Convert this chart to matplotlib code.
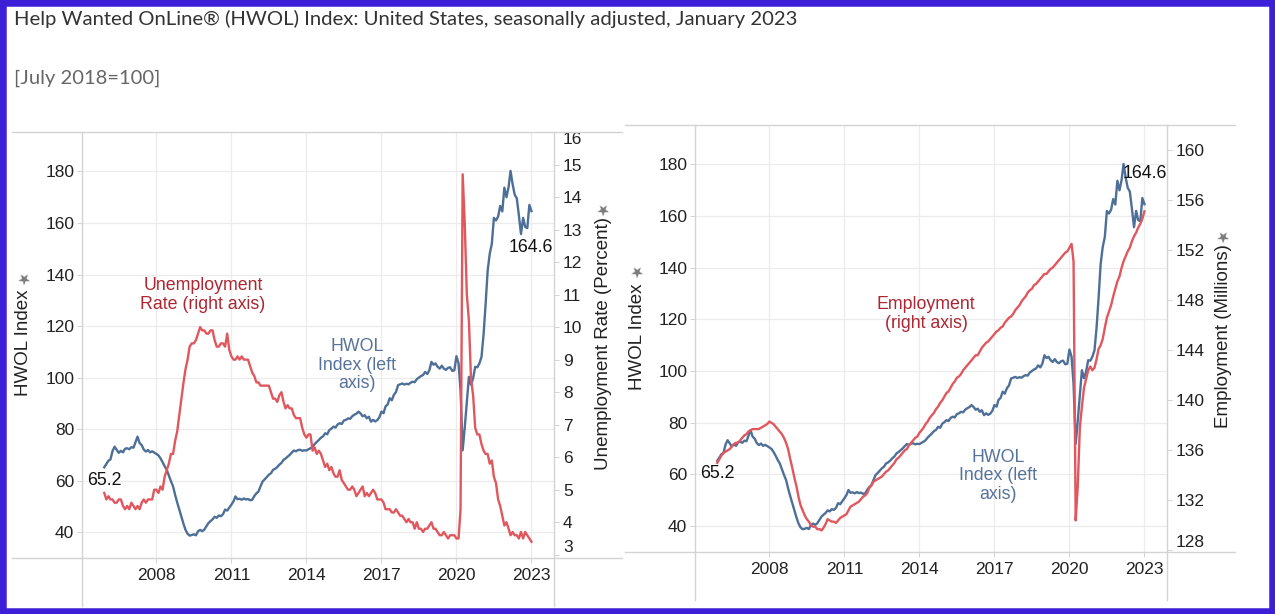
import matplotlib
matplotlib.use('Agg')
import matplotlib.pyplot as plt
from matplotlib.lines import Line2D
from matplotlib.patches import Rectangle
import pandas as pd

# monthly data, Dec 2005 .. Jan 2023
months = pd.date_range('2005-12-01', '2023-01-01', freq='MS')

hwol = [
    65.2,
    66.5, 67.8, 68.2, 71.5, 73.2, 72.0, 70.8, 71.6, 71.0, 72.4, 72.6, 72.2,    # 2006
    73.0, 72.8, 74.8, 77.1, 74.6, 73.8, 72.1, 71.3, 71.9, 71.0, 71.4, 70.9,    # 2007
    70.4, 69.8, 68.7, 67.2, 65.6, 64.2, 62.0, 59.8, 57.8, 54.5, 51.5, 48.8,    # 2008
    46.0, 43.2, 41.0, 39.4, 38.7, 38.9, 39.2, 38.8, 40.4, 40.9, 40.4, 41.0,    # 2009
    42.3, 43.6, 44.3, 45.0, 46.0, 45.6, 46.5, 46.2, 47.0, 48.8, 48.4, 49.5,    # 2010
    50.7, 52.0, 53.9, 52.8, 53.0, 52.6, 53.1, 52.7, 52.9, 52.4, 52.6, 54.0,    # 2011
    55.1, 55.8, 57.8, 59.7, 60.5, 61.4, 62.3, 62.9, 64.2, 64.6, 65.3, 66.2,    # 2012
    66.9, 68.1, 68.6, 69.3, 70.0, 70.9, 71.7, 71.4, 71.9, 72.0, 71.6, 71.8,    # 2013
    71.7, 72.2, 72.6, 73.2, 74.2, 75.0, 75.8, 76.7, 77.2, 78.4, 78.0, 79.6,    # 2014
    80.2, 81.0, 80.6, 81.8, 82.3, 82.0, 83.3, 83.6, 84.2, 84.0, 85.0, 85.6,    # 2015
    86.0, 86.8, 86.1, 85.0, 85.4, 84.2, 84.8, 82.9, 83.6, 83.0, 83.5, 84.6,    # 2016
    86.8, 86.2, 88.8, 89.6, 92.0, 91.2, 93.3, 94.4, 97.1, 97.4, 97.7, 97.3,    # 2017
    97.6, 97.4, 98.0, 98.4, 98.2, 99.4, 100.0, 100.6, 101.0, 102.2, 101.4, 102.8,  # 2018
    106.1, 105.0, 105.5, 104.2, 103.5, 104.6, 103.5, 103.0, 103.8, 104.0, 102.6, 102.8,  # 2019
    108.3, 105.5, 95.0, 71.8, 80.5, 90.5, 100.3, 97.2, 99.8, 104.2, 104.0, 105.5,  # 2020
    108.0, 117.0, 128.0, 141.5, 148.0, 152.0, 162.0, 161.0, 162.5, 166.6, 164.5, 173.7,  # 2021
    170.0, 174.0, 180.2, 175.0, 171.0, 169.5, 163.0, 155.7, 162.0, 158.5, 158.0, 167.0,  # 2022
    164.6,
]

unemp = [
    4.9,
    4.7, 4.8, 4.7, 4.7, 4.6, 4.6, 4.7, 4.7, 4.5, 4.4, 4.5, 4.4,
    4.6, 4.5, 4.4, 4.5, 4.4, 4.6, 4.7, 4.6, 4.7, 4.7, 4.7, 5.0,
    5.0, 4.9, 5.1, 5.0, 5.4, 5.6, 5.8, 6.1, 6.1, 6.5, 6.8, 7.3,
    7.8, 8.3, 8.7, 9.0, 9.4, 9.5, 9.5, 9.6, 9.8, 10.0, 9.9, 9.9,
    9.8, 9.8, 9.9, 9.9, 9.6, 9.4, 9.4, 9.5, 9.5, 9.4, 9.8, 9.3,
    9.1, 9.0, 9.0, 9.1, 9.0, 9.1, 9.0, 9.0, 9.0, 8.8, 8.6, 8.5,
    8.3, 8.3, 8.2, 8.2, 8.2, 8.2, 8.2, 8.0, 7.8, 7.8, 7.7, 7.9,
    8.0, 7.7, 7.5, 7.6, 7.5, 7.5, 7.3, 7.2, 7.2, 7.2, 6.9, 6.7,
    6.6, 6.7, 6.7, 6.2, 6.3, 6.1, 6.2, 6.1, 5.9, 5.7, 5.8, 5.6,
    5.7, 5.5, 5.4, 5.4, 5.6, 5.3, 5.2, 5.1, 5.0, 5.0, 5.1, 5.0,
    4.8, 4.9, 5.0, 5.1, 4.8, 4.9, 4.8, 4.9, 5.0, 4.9, 4.7, 4.7,
    4.7, 4.6, 4.4, 4.4, 4.4, 4.3, 4.3, 4.4, 4.3, 4.2, 4.2, 4.1,
    4.0, 4.1, 4.0, 4.0, 3.8, 4.0, 3.8, 3.8, 3.7, 3.8, 3.8, 3.9,
    4.0, 3.8, 3.8, 3.7, 3.6, 3.6, 3.7, 3.6, 3.5, 3.6, 3.6, 3.6,
    3.5, 3.5, 4.4, 14.7, 13.2, 11.0, 10.2, 8.4, 7.9, 6.9, 6.7, 6.7,
    6.4, 6.2, 6.1, 6.1, 5.8, 5.9, 5.4, 5.2, 4.7, 4.5, 4.2, 3.9,
    4.0, 3.8, 3.6, 3.7, 3.6, 3.6, 3.5, 3.7, 3.5, 3.7, 3.6, 3.5,
    3.4,
]

employment = [
    135.0,
    135.3, 135.6, 135.8, 135.9, 136.0, 136.1, 136.3, 136.5, 136.6, 136.6, 136.8, 137.0,
    137.2, 137.3, 137.5, 137.6, 137.7, 137.7, 137.7, 137.7, 137.8, 137.9, 138.0, 138.1,
    138.3, 138.2, 138.1, 137.9, 137.7, 137.5, 137.3, 137.0, 136.6, 136.1, 135.3, 134.6,
    133.8, 133.1, 132.3, 131.6, 131.2, 130.8, 130.5, 130.3, 130.0, 129.9, 129.9, 129.7,
    129.7, 129.6, 129.8, 130.1, 130.5, 130.4, 130.3, 130.3, 130.2, 130.4, 130.6, 130.7,
    130.8, 130.9, 131.2, 131.5, 131.6, 131.7, 131.8, 131.9, 132.1, 132.3, 132.4, 132.6,
    133.0, 133.2, 133.5, 133.6, 133.7, 133.8, 133.9, 134.1, 134.3, 134.4, 134.6, 134.8,
    135.0, 135.3, 135.4, 135.6, 135.8, 136.0, 136.1, 136.4, 136.6, 136.8, 137.0, 137.1,
    137.4, 137.6, 137.8, 138.1, 138.3, 138.6, 138.8, 139.0, 139.3, 139.5, 139.8, 140.0,
    140.3, 140.6, 140.7, 141.0, 141.3, 141.5, 141.8, 141.9, 142.1, 142.4, 142.6, 142.8,
    143.0, 143.2, 143.4, 143.6, 143.6, 143.9, 144.2, 144.4, 144.6, 144.7, 144.9, 145.1,
    145.3, 145.5, 145.6, 145.8, 145.9, 146.2, 146.4, 146.6, 146.7, 146.9, 147.2, 147.4,
    147.6, 147.9, 148.1, 148.3, 148.6, 148.8, 148.9, 149.2, 149.3, 149.5, 149.7, 149.9,
    150.1, 150.1, 150.3, 150.5, 150.6, 150.8, 151.0, 151.2, 151.4, 151.6, 151.8, 151.9,
    152.2, 152.5, 151.1, 130.4, 133.1, 137.8, 139.5, 141.0, 141.7, 142.4, 142.7, 142.4,
    142.6, 143.3, 144.1, 144.4, 144.9, 145.8, 146.6, 147.1, 147.6, 148.3, 148.9, 149.5,
    149.9, 150.6, 151.1, 151.5, 151.9, 152.2, 152.7, 153.1, 153.4, 153.8, 154.1, 154.5,
    155.1,
]

tick_years = [2008, 2011, 2014, 2017, 2020, 2023]
hwol_ticks = [40, 60, 80, 100, 120, 140, 160, 180]
unemp_ticks = list(range(3, 17))
emp_ticks = [128, 132, 136, 140, 144, 148, 152, 156, 160]

BLUE = '#4e6f97'
RED = '#e0575e'
RED_TXT = '#ad2631'
BLUE_TXT = '#57739b'
GRID = '#ececec'
FRAME = '#d3d3d3'
FONT = 'Liberation Sans'

W, H = 1275, 614
fig = plt.figure(figsize=(W / 100, H / 100), dpi=100)
fig.patch.set_facecolor('white')


def fx(px):
    return px / W


def fy(py):
    return 1 - py / H


def setup(ax, axr, left, top, right, bottom, rlim, rticks):
    ax.set_position([fx(left), fy(bottom), fx(right) - fx(left), fy(top) - fy(bottom)])
    axr.set_position(ax.get_position())
    for a in (ax, axr):
        for s in a.spines.values():
            s.set_visible(False)
    ax.set_xlim(pd.Timestamp('2005-01-10'), pd.Timestamp('2023-11-26'))
    ax.set_xticks([pd.Timestamp(f'{y}-01-01') for y in tick_years])
    ax.set_xticklabels([str(y) for y in tick_years])
    ax.set_ylim(30, 195.3)
    ax.set_yticks(hwol_ticks)
    axr.set_ylim(*rlim)
    axr.set_yticks(rticks)
    ax.grid(True, color=GRID, lw=0.9)
    ax.set_axisbelow(True)
    ax.tick_params(axis='y', length=3.5, width=0.7, color=FRAME, pad=2,
                   labelsize=12.5, labelcolor='#222222')
    ax.tick_params(axis='x', length=3.5, width=0.7, color=FRAME, pad=4,
                   labelsize=12.5, labelcolor='#222222')
    axr.tick_params(axis='y', length=3.5, width=0.7, color=FRAME, pad=3,
                    labelsize=12.5, labelcolor='#222222')
    for lab in ax.get_xticklabels() + ax.get_yticklabels() + axr.get_yticklabels():
        lab.set_fontfamily(FONT)
    # keep the end labels of the right axis inside the plot band, like Tableau
    rt = axr.yaxis.get_major_ticks()
    if rt[-1].get_loc() > rlim[1] - 0.5:
        rt[-1].label2.set_va('top')
    rt[0].label2.set_va('bottom')
    # tableau style frame lines
    for (x0, y0, x1, y1) in [(left - 70, top, right + 68, top),
                             (left - 70, bottom, right + 68, bottom),
                             (left, top, left, bottom + 48),
                             (right, top, right, bottom + 48)]:
        fig.add_artist(Line2D([fx(x0), fx(x1)], [fy(y0), fy(y1)], color=FRAME, lw=1.0))


# ---- left panel: HWOL vs unemployment rate
ax1 = fig.add_axes([0.1, 0.1, 0.3, 0.6])
ax1r = ax1.twinx()
setup(ax1, ax1r, 82, 132, 554, 558, (2.9, 16.0), unemp_ticks)
ax1.plot(months, hwol, color=BLUE, lw=1.7)
ax1r.plot(months, unemp, color=RED, lw=1.7)
ax1.annotate(f'{hwol[0]}', xy=(months[0], hwol[0]), xytext=(0, -13),
             textcoords='offset pixels', ha='center', va='center',
             fontsize=12.8, family=FONT, color='#111111')
ax1.annotate(f'{hwol[-1]}', xy=(months[-1], hwol[-1]), xytext=(-1, -36),
             textcoords='offset pixels', ha='center', va='center',
             fontsize=12.8, family=FONT, color='#111111')
ax1.text((203 - 82) / 472, (558 - 295) / 426, 'Unemployment\nRate (right axis)',
         transform=ax1.transAxes, ha='center', va='center', fontsize=12.8,
         family=FONT, color=RED_TXT, linespacing=1.15)
ax1.text((357 - 82) / 472, (558 - 365) / 426, 'HWOL\nIndex (left\naxis)',
         transform=ax1.transAxes, ha='center', va='center', fontsize=12.8,
         family=FONT, color=BLUE_TXT, linespacing=1.15)

# ---- right panel: HWOL vs employment
ax2 = fig.add_axes([0.55, 0.1, 0.3, 0.6])
ax2r = ax2.twinx()
setup(ax2, ax2r, 695, 125, 1167, 551.7, (127.9, 162.0), emp_ticks)
ax2.plot(months, hwol, color=BLUE, lw=1.7)
ax2r.plot(months, employment, color=RED, lw=1.7)
ax2.annotate(f'{hwol[0]}', xy=(months[0], hwol[0]), xytext=(0, -13),
             textcoords='offset pixels', ha='center', va='center',
             fontsize=12.8, family=FONT, color='#111111')
ax2.annotate(f'{hwol[-1]}', xy=(months[-1], hwol[-1]), xytext=(0, 31),
             textcoords='offset pixels', ha='center', va='center',
             fontsize=12.8, family=FONT, color='#111111')
ax2.text((926 - 695) / 472, (551.7 - 314) / 426.7, 'Employment\n(right axis)',
         transform=ax2.transAxes, ha='center', va='center', fontsize=12.8,
         family=FONT, color=RED_TXT, linespacing=1.15)
ax2.text((998 - 695) / 472, (551.7 - 476) / 426.7, 'HWOL\nIndex (left\naxis)',
         transform=ax2.transAxes, ha='center', va='center', fontsize=12.8,
         family=FONT, color=BLUE_TXT, linespacing=1.15)

# axis titles with the little pin icons
for (px, py, txt, pin_y) in [(24, 343, 'HWOL Index', 279),
                             (603, 343, 'Unemployment Rate (Percent)', 210),
                             (637, 337, 'HWOL Index', 272),
                             (1223, 336, 'Employment (Millions)', 237)]:
    fig.text(fx(px), fy(py), txt, rotation=90, ha='center', va='center',
             fontsize=13.5, family=FONT, color='#222222')
    fig.text(fx(px), fy(pin_y), '\u2605', rotation=35, ha='center', va='center',
             fontsize=11, family='DejaVu Sans', color='#7a7a7a')

# titles
fig.text(fx(14), fy(19), 'Help Wanted OnLine\u00ae (HWOL) Index: United States, seasonally adjusted, January 2023',
         ha='left', va='center', fontsize=14.6, family='Lato', color='#333333')
fig.text(fx(14), fy(78), '[July 2018=100]', ha='left', va='center',
         fontsize=14.5, family='Lato', color='#666666')

# purple border
fig.add_artist(Rectangle((0, 0), 1, 1, transform=fig.transFigure, fill=False,
                         edgecolor='#3d1fd8', lw=9))

fig.savefig('out.png', dpi=100, facecolor='white')
